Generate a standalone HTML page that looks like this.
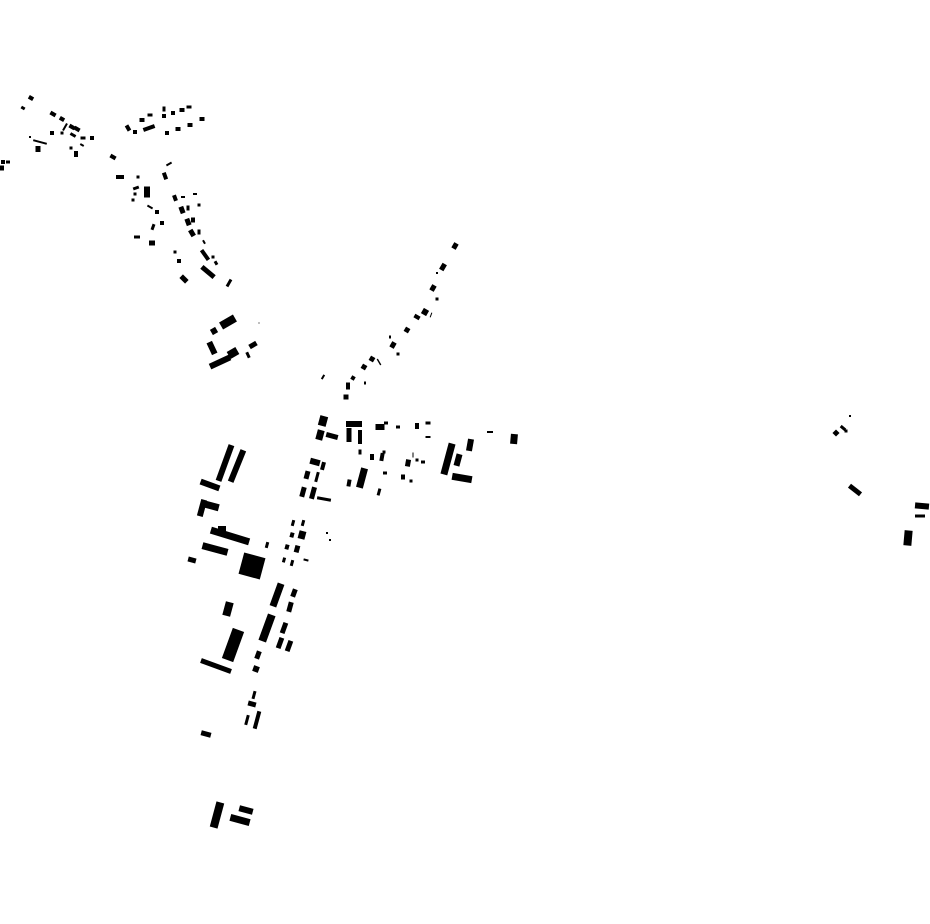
<!DOCTYPE html>
<html><head><meta charset="utf-8"><style>html,body{margin:0;padding:0;background:#fff;}svg{display:block}</style></head>
<body>
<svg width="930" height="924" viewBox="0 0 930 924" xmlns="http://www.w3.org/2000/svg">
<g fill="#000">
<!-- NW cluster -->
<rect x="-2.5" y="-2" width="5" height="4" transform="translate(31,98) rotate(30)"/>
<rect x="-2" y="-1.5" width="4" height="3" transform="translate(23,108) rotate(30)"/>
<rect x="-3" y="-2" width="6" height="4" transform="translate(53,114) rotate(30)"/>
<rect x="-2.5" y="-2" width="5" height="4" transform="translate(62,119) rotate(30)"/>
<rect x="-1" y="-4" width="2" height="8" transform="translate(65,127) rotate(30)"/>
<rect x="-3" y="-2" width="6" height="4" transform="translate(72,127) rotate(30)"/>
<rect x="-3" y="-2" width="6" height="4" transform="translate(77,129) rotate(30)"/>
<rect x="-3" y="-1.5" width="6" height="3" transform="translate(73,135) rotate(30)"/>
<rect x="-2" y="-2" width="4" height="4" transform="translate(52,133)"/>
<rect x="-1.5" y="-1.5" width="3" height="3" transform="translate(62,133)"/>
<rect x="-7" y="-1" width="14" height="2" transform="translate(40,142) rotate(15)"/>
<rect x="-1" y="-1" width="2" height="2" transform="translate(30,137)"/>
<rect x="-2.5" y="-3" width="5" height="6" transform="translate(38,149)"/>
<rect x="-1.5" y="-1.5" width="3" height="3" transform="translate(71,148)"/>
<rect x="-2" y="-3" width="4" height="6" transform="translate(76,154)"/>
<rect x="-2.5" y="-1.5" width="5" height="3" transform="translate(83,138)"/>
<rect x="-2" y="-2" width="4" height="4" transform="translate(92,138)"/>
<rect x="-2" y="-1" width="4" height="2" transform="translate(82,145) rotate(30)"/>
<rect x="-2" y="-2" width="4" height="4" transform="translate(3,162)"/>
<rect x="-2" y="-1.5" width="4" height="3" transform="translate(8,162)"/>
<rect x="-2" y="-2.5" width="4" height="5" transform="translate(2,168)"/>
<rect x="-3" y="-2" width="6" height="4" transform="translate(113,157) rotate(30)"/>
<rect x="-2" y="-3" width="4" height="6" transform="translate(128,128) rotate(-30)"/>
<rect x="-2" y="-2" width="4" height="4" transform="translate(135,132)"/>
<rect x="-6" y="-2" width="12" height="4" transform="translate(149,128) rotate(-20)"/>
<rect x="-2.5" y="-2" width="5" height="4" transform="translate(142,120)"/>
<rect x="-2.5" y="-1.5" width="5" height="3" transform="translate(150,115)"/>
<rect x="-1.5" y="-2.5" width="3" height="5" transform="translate(164,109)"/>
<rect x="-2" y="-2" width="4" height="4" transform="translate(164,116)"/>
<rect x="-2" y="-2" width="4" height="4" transform="translate(173,113)"/>
<rect x="-2.5" y="-2" width="5" height="4" transform="translate(182,110)"/>
<rect x="-2.5" y="-1.5" width="5" height="3" transform="translate(189,107)"/>
<rect x="-2" y="-2" width="4" height="4" transform="translate(167,133)"/>
<rect x="-2.5" y="-2" width="5" height="4" transform="translate(178,129)"/>
<rect x="-2.5" y="-2" width="5" height="4" transform="translate(190,125)"/>
<rect x="-2.5" y="-2" width="5" height="4" transform="translate(202,119)"/>
<rect x="-3" y="-1" width="6" height="2" transform="translate(169,164) rotate(-30)"/>
<rect x="-2" y="-3.5" width="4" height="7" transform="translate(165,176) rotate(-20)"/>
<rect x="-4" y="-2" width="8" height="4" transform="translate(120,177)"/>
<rect x="-1.5" y="-1.5" width="3" height="3" transform="translate(138,177)"/>
<rect x="-3" y="-1.5" width="6" height="3" transform="translate(136,188) rotate(-20)"/>
<rect x="-3" y="-5.5" width="6" height="11" transform="translate(147,192)"/>
<rect x="-1.5" y="-1.5" width="3" height="3" transform="translate(135,194)"/>
<rect x="-1.5" y="-1.5" width="3" height="3" transform="translate(133,200)"/>
<rect x="-3" y="-1" width="6" height="2" transform="translate(150,207) rotate(30)"/>
<rect x="-2" y="-2" width="4" height="4" transform="translate(157,212)"/>
<rect x="-2" y="-2" width="4" height="4" transform="translate(162,223)"/>
<rect x="-1.5" y="-3" width="3" height="6" transform="translate(153,227) rotate(20)"/>
<rect x="-3" y="-1.5" width="6" height="3" transform="translate(137,237)"/>
<rect x="-3" y="-2.5" width="6" height="5" transform="translate(152,243)"/>
<rect x="-2" y="-3" width="4" height="6" transform="translate(175,198) rotate(-20)"/>
<rect x="-2" y="-1" width="4" height="2" transform="translate(183,197)"/>
<rect x="-2" y="-1" width="4" height="2" transform="translate(195,194)"/>
<rect x="-1.5" y="-1.5" width="3" height="3" transform="translate(199,205)"/>
<rect x="-2.5" y="-3.5" width="5" height="7" transform="translate(182,210) rotate(-20)"/>
<rect x="-1.5" y="-2.5" width="3" height="5" transform="translate(188,208)"/>
<rect x="-2.5" y="-3.5" width="5" height="7" transform="translate(188,222) rotate(-20)"/>
<rect x="-2" y="-2.5" width="4" height="5" transform="translate(193,220)"/>
<rect x="-2.5" y="-3.5" width="5" height="7" transform="translate(192,233) rotate(-30)"/>
<rect x="-1.5" y="-2.5" width="3" height="5" transform="translate(199,232)"/>
<rect x="-1" y="-2" width="2" height="4" transform="translate(204,242) rotate(-30)"/>
<rect x="-2" y="-6" width="4" height="12" transform="translate(205,255) rotate(-35)"/>
<rect x="-1.5" y="-1.5" width="3" height="3" transform="translate(213,257)"/>
<rect x="-1.5" y="-2" width="3" height="4" transform="translate(216,263) rotate(-30)"/>
<rect x="-8" y="-2.5" width="16" height="5" transform="translate(208,272) rotate(40)"/>
<rect x="-4" y="-2.5" width="8" height="5" transform="translate(184,279) rotate(45)"/>
<rect x="-1.5" y="-1.5" width="3" height="3" transform="translate(175,252)"/>
<rect x="-2" y="-2" width="4" height="4" transform="translate(179,261)"/>
<rect x="-1.5" y="-4" width="3" height="8" transform="translate(229,283) rotate(30)"/>
<rect x="-8" y="-4" width="16" height="8" transform="translate(228,322) rotate(-30)"/>
<rect x="-3" y="-3" width="6" height="6" transform="translate(214,331) rotate(-30)"/>
<rect x="-3" y="-6.5" width="6" height="13" transform="translate(212,348) rotate(-25)"/>
<rect x="-11" y="-3" width="22" height="6" transform="translate(220,362) rotate(-25)"/>
<rect x="-5" y="-4" width="10" height="8" transform="translate(233,353) rotate(-30)"/>
<rect x="-1.5" y="-3" width="3" height="6" transform="translate(248,355) rotate(-25)"/>
<rect x="-4" y="-2.5" width="8" height="5" transform="translate(253,345) rotate(-30)"/>
<rect x="-0.5" y="-0.5" width="1" height="1" transform="translate(259,323)"/>
<!-- diagonal chain -->
<rect x="-2.5" y="-3" width="5" height="6" transform="translate(455,246) rotate(30)"/>
<rect x="-2.5" y="-3.5" width="5" height="7" transform="translate(443,267) rotate(30)"/>
<rect x="-1" y="-1" width="2" height="2" transform="translate(437,273)"/>
<rect x="-2.5" y="-3" width="5" height="6" transform="translate(433,288) rotate(30)"/>
<rect x="-1.5" y="-1.5" width="3" height="3" transform="translate(437,299)"/>
<rect x="-3" y="-3" width="6" height="6" transform="translate(425,312) rotate(30)"/>
<rect x="-0.5" y="-2.5" width="1" height="5" transform="translate(431,315) rotate(20)"/>
<rect x="-3" y="-2" width="6" height="4" transform="translate(417,317) rotate(30)"/>
<rect x="-2.5" y="-2.5" width="5" height="5" transform="translate(407,330) rotate(30)"/>
<rect x="-1" y="-1.5" width="2" height="3" transform="translate(390,337)"/>
<rect x="-2.5" y="-3" width="5" height="6" transform="translate(393,345) rotate(30)"/>
<rect x="-1.5" y="-1.5" width="3" height="3" transform="translate(398,354)"/>
<rect x="-2.5" y="-2.5" width="5" height="5" transform="translate(372,359) rotate(30)"/>
<rect x="-0.7" y="-3.5" width="1.4" height="7" transform="translate(379,362) rotate(-30)"/>
<rect x="-2.5" y="-2.5" width="5" height="5" transform="translate(364,367) rotate(30)"/>
<rect x="-2" y="-2" width="4" height="4" transform="translate(353,378) rotate(30)"/>
<rect x="-1" y="-1.5" width="2" height="3" transform="translate(365,383)"/>
<rect x="-1" y="-2.5" width="2" height="5" transform="translate(323,377) rotate(30)"/>
<rect x="-2" y="-3.5" width="4" height="7" transform="translate(348,386)"/>
<rect x="-2.5" y="-2.5" width="5" height="5" transform="translate(346,397)"/>
<!-- central cluster -->
<rect x="-4" y="-5" width="8" height="10" transform="translate(323,421) rotate(15)"/>
<rect x="-3.5" y="-5" width="7" height="10" transform="translate(320,435) rotate(15)"/>
<rect x="-6" y="-2.5" width="12" height="5" transform="translate(332,436) rotate(15)"/>
<rect x="-8" y="-3" width="16" height="6" transform="translate(354,424)"/>
<rect x="-2.5" y="-7" width="5" height="14" transform="translate(349,435)"/>
<rect x="-2" y="-7" width="4" height="14" transform="translate(360,437)"/>
<rect x="-1.5" y="-2.5" width="3" height="5" transform="translate(360,452)"/>
<rect x="-4.5" y="-3" width="9" height="6" transform="translate(380,427)"/>
<rect x="-2" y="-1.5" width="4" height="3" transform="translate(386,423)"/>
<rect x="-2" y="-1.5" width="4" height="3" transform="translate(398,427)"/>
<rect x="-2" y="-3" width="4" height="6" transform="translate(417,426)"/>
<rect x="-2.5" y="-1.5" width="5" height="3" transform="translate(428,423)"/>
<rect x="-2.5" y="-1" width="5" height="2" transform="translate(428,437)"/>
<rect x="-3.5" y="-16" width="7" height="32" transform="translate(448,459) rotate(15)"/>
<rect x="-3" y="-6" width="6" height="12" transform="translate(470,445) rotate(10)"/>
<rect x="-3" y="-6" width="6" height="12" transform="translate(458,460) rotate(15)"/>
<rect x="-10" y="-3.5" width="20" height="7" transform="translate(462,478) rotate(10)"/>
<rect x="-3" y="-1" width="6" height="2" transform="translate(490,432)"/>
<rect x="-3.5" y="-5" width="7" height="10" transform="translate(514,439) rotate(5)"/>
<rect x="-2" y="-3" width="4" height="6" transform="translate(372,457)"/>
<rect x="-2" y="-4" width="4" height="8" transform="translate(382,457) rotate(10)"/>
<rect x="-1.5" y="-1.5" width="3" height="3" transform="translate(384,452)"/>
<rect x="-0.5" y="-2.5" width="1" height="5" transform="translate(413,455)"/>
<rect x="-1.5" y="-1.5" width="3" height="3" transform="translate(417,460)"/>
<rect x="-2" y="-1.5" width="4" height="3" transform="translate(423,462)"/>
<rect x="-2.5" y="-3.5" width="5" height="7" transform="translate(408,463) rotate(10)"/>
<rect x="-2" y="-2.5" width="4" height="5" transform="translate(403,477)"/>
<rect x="-1.5" y="-1.5" width="3" height="3" transform="translate(411,481)"/>
<rect x="-2" y="-1.5" width="4" height="3" transform="translate(385,473)"/>
<rect x="-1.5" y="-3.5" width="3" height="7" transform="translate(379,492) rotate(15)"/>
<rect x="-3.5" y="-10" width="7" height="20" transform="translate(362,478) rotate(15)"/>
<rect x="-2" y="-3.5" width="4" height="7" transform="translate(349,483) rotate(10)"/>
<rect x="-5" y="-3" width="10" height="6" transform="translate(315,462) rotate(15)"/>
<rect x="-2" y="-4" width="4" height="8" transform="translate(323,466) rotate(15)"/>
<rect x="-2.5" y="-4" width="5" height="8" transform="translate(307,475) rotate(15)"/>
<rect x="-1.5" y="-5" width="3" height="10" transform="translate(317,477) rotate(15)"/>
<rect x="-2.5" y="-5" width="5" height="10" transform="translate(303,492) rotate(15)"/>
<rect x="-2.5" y="-6" width="5" height="12" transform="translate(313,493) rotate(15)"/>
<rect x="-7" y="-1.5" width="14" height="3" transform="translate(324,499) rotate(10)"/>
<rect x="-3" y="-19" width="6" height="38" transform="translate(225,463) rotate(20)"/>
<rect x="-3" y="-17" width="6" height="34" transform="translate(237,466) rotate(22)"/>
<rect x="-10" y="-3" width="20" height="6" transform="translate(210,485) rotate(20)"/>
<rect x="-3" y="-8.5" width="6" height="17" transform="translate(202,508) rotate(15)"/>
<rect x="-7" y="-3.5" width="14" height="7" transform="translate(212,506) rotate(15)"/>
<rect x="-4" y="-3" width="8" height="6" transform="translate(222,529)"/>
<rect x="-20" y="-3.5" width="40" height="7" transform="translate(230,536) rotate(17)"/>
<rect x="-13" y="-3.5" width="26" height="7" transform="translate(215,549) rotate(15)"/>
<rect x="-4" y="-2.5" width="8" height="5" transform="translate(192,560) rotate(15)"/>
<rect x="-11" y="-11" width="22" height="22" transform="translate(252,566) rotate(15)"/>
<rect x="-1.5" y="-3" width="3" height="6" transform="translate(267,545) rotate(15)"/>
<rect x="-1.5" y="-3" width="3" height="6" transform="translate(293,523) rotate(15)"/>
<rect x="-1.5" y="-3" width="3" height="6" transform="translate(303,523) rotate(15)"/>
<rect x="-2" y="-2.5" width="4" height="5" transform="translate(292,535) rotate(15)"/>
<rect x="-3.5" y="-4" width="7" height="8" transform="translate(302,535) rotate(15)"/>
<rect x="-2" y="-2.5" width="4" height="5" transform="translate(287,547) rotate(15)"/>
<rect x="-2.5" y="-3.5" width="5" height="7" transform="translate(297,549) rotate(15)"/>
<rect x="-1.5" y="-2.5" width="3" height="5" transform="translate(284,560) rotate(15)"/>
<rect x="-1.5" y="-3" width="3" height="6" transform="translate(292,563) rotate(15)"/>
<rect x="-2.5" y="-1" width="5" height="2" transform="translate(306,560) rotate(15)"/>
<rect x="-1" y="-1" width="2" height="2" transform="translate(327,533)"/>
<rect x="-1" y="-1" width="2" height="2" transform="translate(330,540)"/>
<!-- south -->
<rect x="-3.5" y="-12" width="7" height="24" transform="translate(277,595) rotate(20)"/>
<rect x="-2.5" y="-4" width="5" height="8" transform="translate(294,593) rotate(20)"/>
<rect x="-2.5" y="-5" width="5" height="10" transform="translate(290,607) rotate(15)"/>
<rect x="-4" y="-7" width="8" height="14" transform="translate(228,609) rotate(15)"/>
<rect x="-4" y="-14" width="8" height="28" transform="translate(267,628) rotate(20)"/>
<rect x="-2.5" y="-5.5" width="5" height="11" transform="translate(284,628) rotate(20)"/>
<rect x="-2.5" y="-5.5" width="5" height="11" transform="translate(280,643) rotate(20)"/>
<rect x="-2.5" y="-5.5" width="5" height="11" transform="translate(289,646) rotate(20)"/>
<rect x="-6" y="-16" width="12" height="32" transform="translate(233,645) rotate(20)"/>
<rect x="-16" y="-2.5" width="32" height="5" transform="translate(216,666) rotate(20)"/>
<rect x="-2.5" y="-4" width="5" height="8" transform="translate(258,655) rotate(20)"/>
<rect x="-3" y="-3" width="6" height="6" transform="translate(256,669) rotate(20)"/>
<rect x="-1.5" y="-4" width="3" height="8" transform="translate(254,695) rotate(15)"/>
<rect x="-4" y="-2.5" width="8" height="5" transform="translate(252,704) rotate(15)"/>
<rect x="-1.5" y="-5" width="3" height="10" transform="translate(247,720) rotate(15)"/>
<rect x="-2" y="-9" width="4" height="18" transform="translate(257,720) rotate(15)"/>
<rect x="-5" y="-2.5" width="10" height="5" transform="translate(206,734) rotate(15)"/>
<rect x="-4" y="-13" width="8" height="26" transform="translate(217,815) rotate(15)"/>
<rect x="-7" y="-3" width="14" height="6" transform="translate(246,810) rotate(15)"/>
<rect x="-10" y="-3.5" width="20" height="7" transform="translate(240,820) rotate(15)"/>
<!-- east -->
<rect x="-1" y="-1" width="2" height="2" transform="translate(850,416)"/>
<rect x="-3" y="-1.5" width="6" height="3" transform="translate(843,428) rotate(40)"/>
<rect x="-1.5" y="-1.5" width="3" height="3" transform="translate(846,431)"/>
<rect x="-2.5" y="-2.5" width="5" height="5" transform="translate(836,433) rotate(45)"/>
<rect x="-7" y="-2.5" width="14" height="5" transform="translate(855,490) rotate(38)"/>
<rect x="-7" y="-3" width="14" height="6" transform="translate(922,506) rotate(5)"/>
<rect x="-5" y="-1.5" width="10" height="3" transform="translate(920,516)"/>
<rect x="-4" y="-7.5" width="8" height="15" transform="translate(908,538) rotate(5)"/>
</g>
</svg>
</body></html>
